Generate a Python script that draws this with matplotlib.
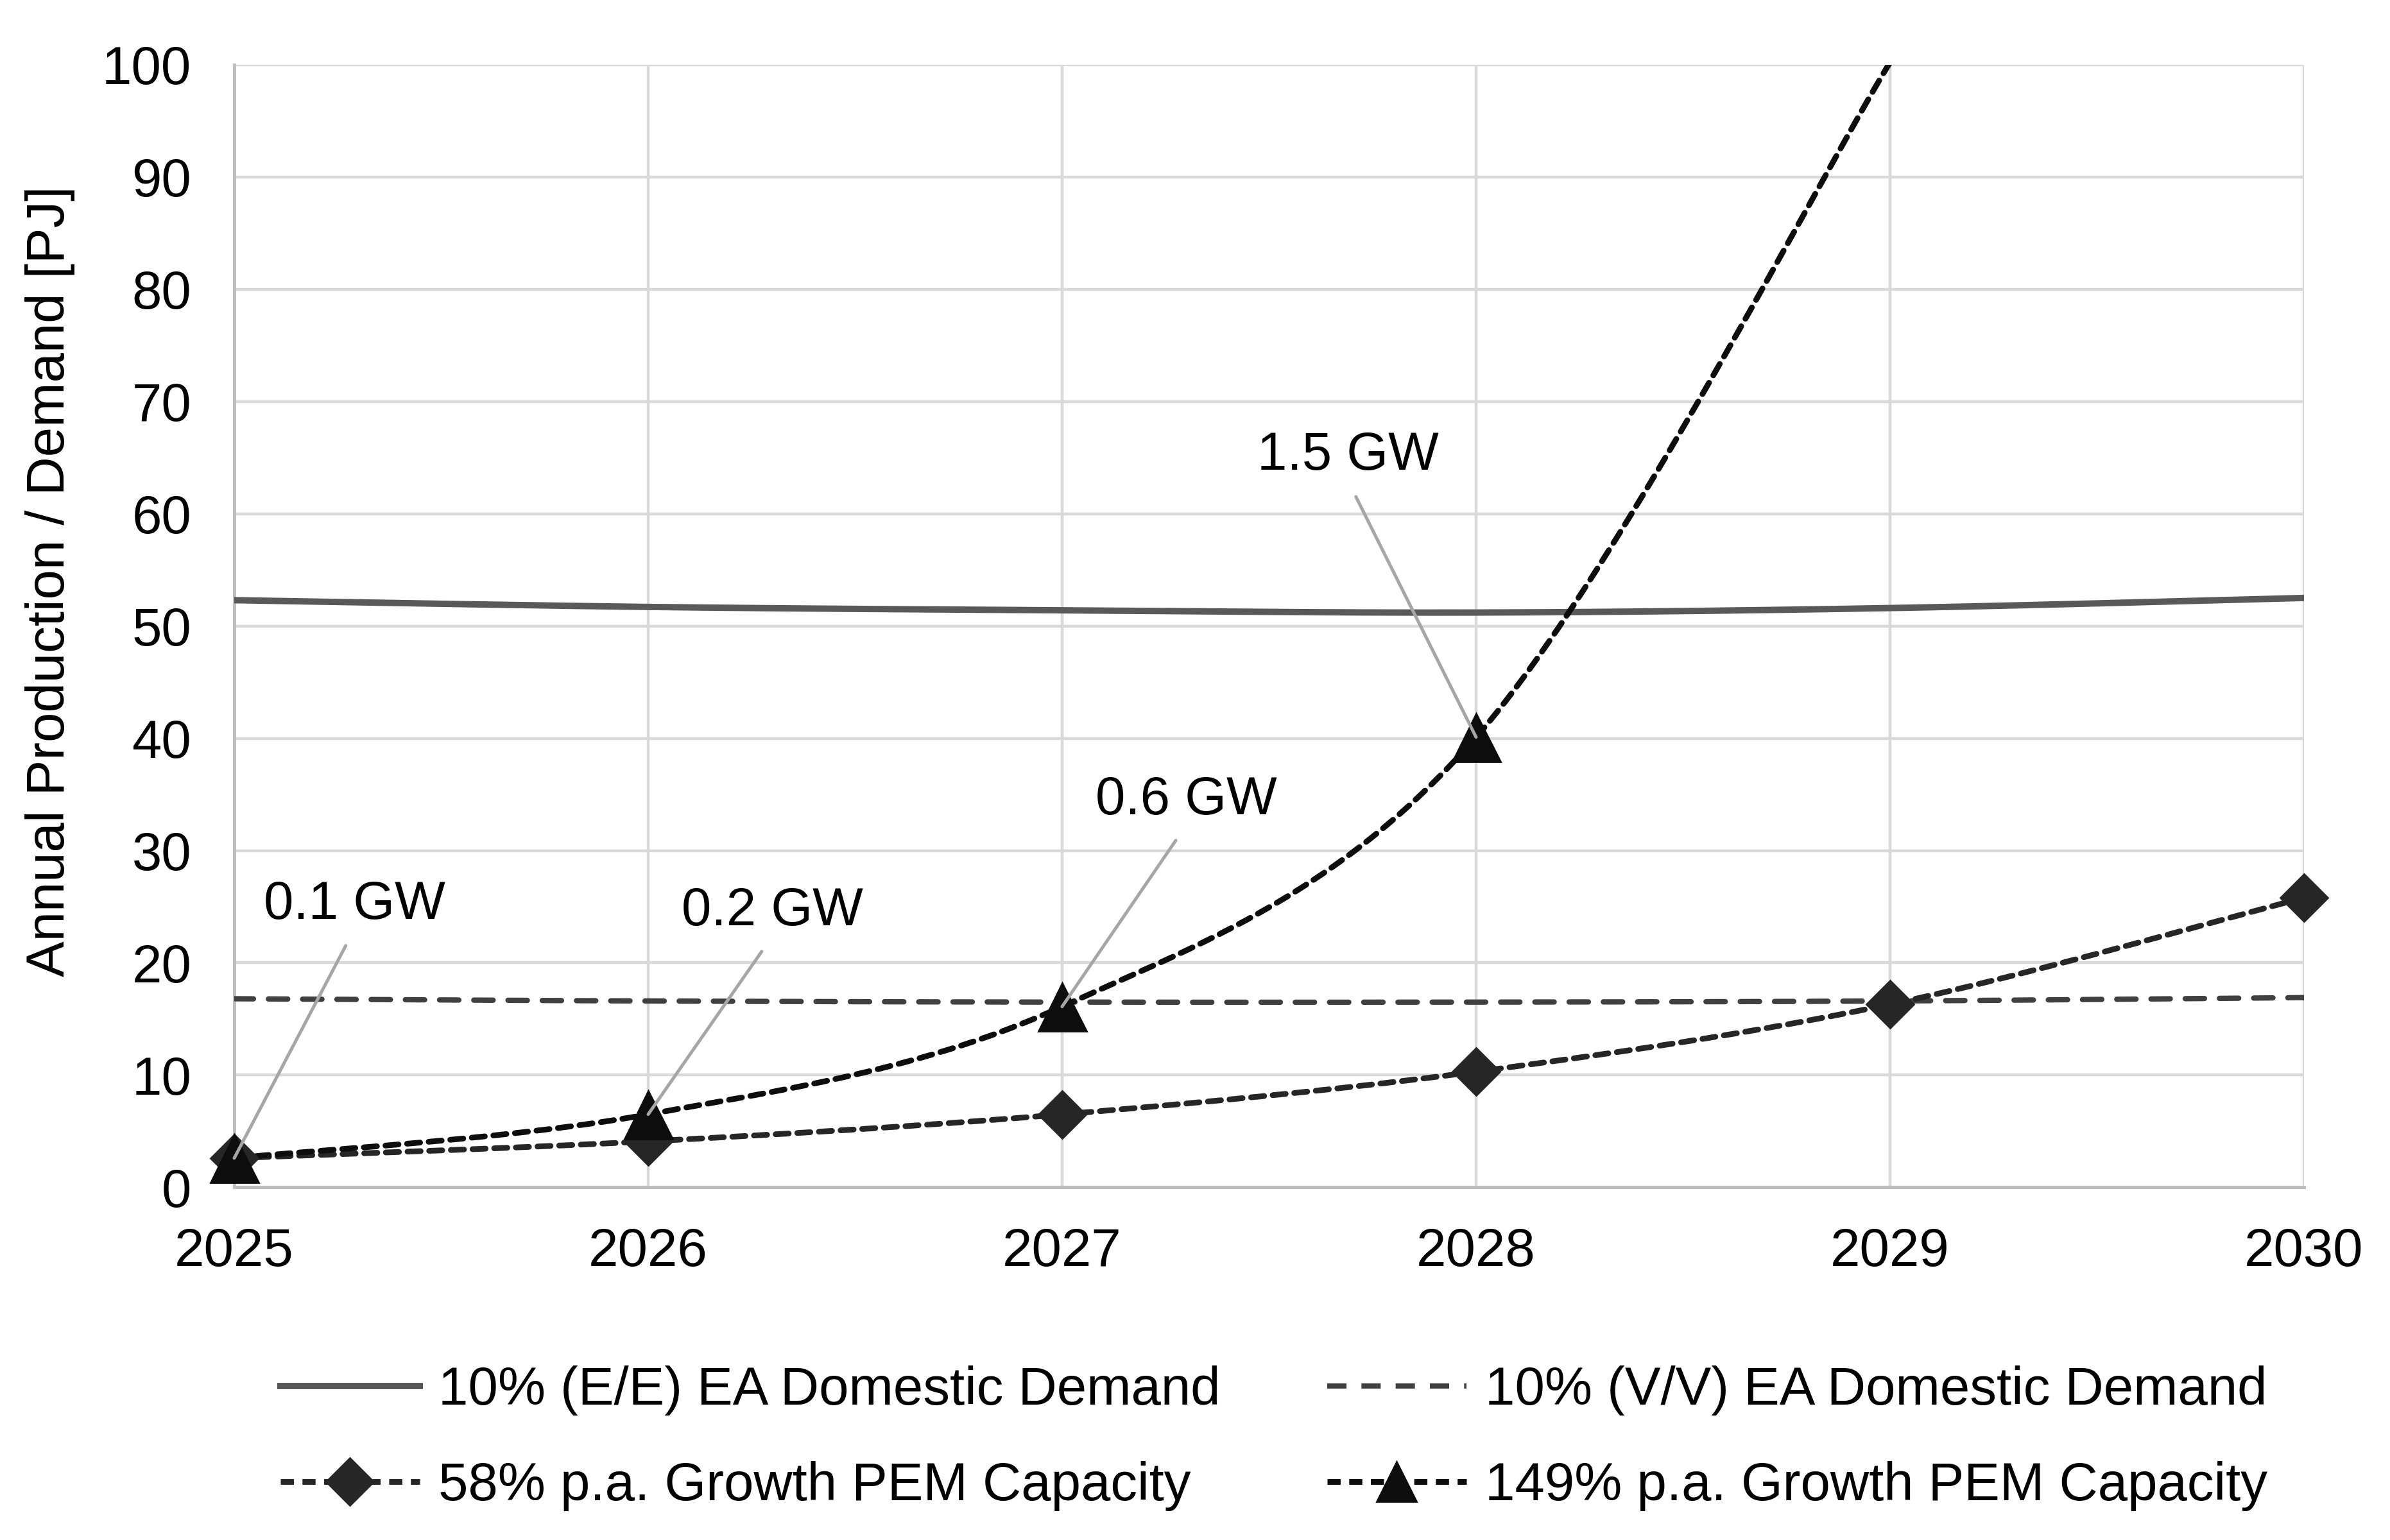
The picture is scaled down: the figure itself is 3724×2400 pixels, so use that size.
import numpy as np
import matplotlib
matplotlib.use("Agg")
import matplotlib.pyplot as plt

plt.rcParams['font.family'] = ['Liberation Sans', 'DejaVu Sans']

# values
years = [2025, 2026, 2027, 2028, 2029, 2030]
demand_ee = [52.3, 51.7, 51.4, 51.2, 51.6, 52.5]
demand_vv = [16.8, 16.6, 16.5, 16.5, 16.6, 16.9]
growth_58 = [2.6, 4.1, 6.5, 10.3, 16.3, 25.8]
years_149 = [2025, 2026, 2027, 2028, 2029]
growth_149 = [2.6, 6.5, 16.1, 40.1, 100.2]

capacity_labels = ["0.1 GW", "0.2 GW", "0.6 GW", "1.5 GW"]
label_pos = [(2025.29, 25.2), (2026.30, 24.6), (2027.30, 34.5), (2027.69, 65.2)]

labels = ["10% (E/E) EA Domestic Demand", "10% (V/V) EA Domestic Demand",
          "58% p.a. Growth PEM Capacity", "149% p.a. Growth PEM Capacity"]


def smooth(xs, ys, n=60):
    # Excel-style smoothed line (Catmull-Rom as cubic Bezier)
    xs = np.asarray(xs, float)
    ys = np.asarray(ys, float)
    px, py = [], []
    for i in range(len(xs) - 1):
        i0 = max(i - 1, 0)
        i3 = min(i + 2, len(xs) - 1)
        p0, p1, p2, p3 = [np.array([xs[k], ys[k]]) for k in (i0, i, i + 1, i3)]
        c1 = p1 + (p2 - p0) / 6.0
        c2 = p2 - (p3 - p1) / 6.0
        t = np.linspace(0, 1, n)[:, None]
        pts = ((1 - t) ** 3) * p1 + 3 * ((1 - t) ** 2) * t * c1 + 3 * (1 - t) * t ** 2 * c2 + t ** 3 * p2
        px.extend(pts[:, 0])
        py.extend(pts[:, 1])
    return np.array(px), np.array(py)


FS = 30
fig = plt.figure(figsize=(18.62, 12), dpi=200)
ax = fig.add_axes([0.098, 0.229, 0.866, 0.729])

x, y = smooth(years, demand_ee)
ax.plot(x, y, color="#595959", lw=3.6, solid_capstyle="round", zorder=3)
x, y = smooth(years, demand_vv)
ax.plot(x, y, color="#404040", lw=3.0, dashes=(3.6, 2.8), dash_capstyle="round", zorder=3)

x, y = smooth(years, growth_58)
ax.plot(x, y, color="#262626", lw=3.2, dashes=(2.3, 1.5), dash_capstyle="round", zorder=4, clip_on=False)
ax.plot(years, growth_58, ls="none", marker="D", ms=19, color="#262626", zorder=5, clip_on=False)

x, y = smooth(years_149, growth_149)
ax.plot(x, y, color="#0d0d0d", lw=3.2, dashes=(2.3, 1.5), dash_capstyle="round", zorder=4)
ax.plot(years_149[:4], growth_149[:4], ls="none", marker="^", ms=27, color="#0d0d0d", zorder=6, clip_on=False)

# capacity annotations
for txt, pos, xp, yp in zip(capacity_labels, label_pos, years_149[:4], growth_149[:4]):
    ax.annotate(txt, xy=(xp, yp), xytext=pos, ha="center", va="center", fontsize=FS,
                arrowprops=dict(arrowstyle="-", color="#a6a6a6", lw=1.8,
                                relpos=(0.5, 0.0), shrinkA=8, shrinkB=0),
                zorder=7)

ax.set_xlim(2025, 2030)
ax.set_ylim(0, 100)
ax.set_xticks(years)
ax.set_yticks(range(0, 101, 10))
ax.tick_params(axis="both", length=0, labelsize=FS)
ax.tick_params(axis="x", pad=22)
ax.tick_params(axis="y", pad=24)
ax.grid(True, color="#d9d9d9", lw=1.6, zorder=0)
ax.set_axisbelow(True)
for s in ["top", "right"]:
    ax.spines[s].set_visible(False)
for s in ["left", "bottom"]:
    ax.spines[s].set_color("#bfbfbf")
    ax.spines[s].set_linewidth(1.8)

ax.set_ylabel("Annual Production / Demand [PJ]", fontsize=FS)
ax.yaxis.set_label_coords(-0.077, 0.54)

handles = [
    plt.Line2D([], [], color="#595959", lw=3.6),
    plt.Line2D([], [], color="#262626", lw=3.2, dashes=(2.3, 1.5), marker="D", ms=19),
    plt.Line2D([], [], color="#404040", lw=3.0, dashes=(3.6, 2.8)),
    plt.Line2D([], [], color="#0d0d0d", lw=3.2, dashes=(2.3, 1.5), marker="^", ms=22),
]
order = [labels[0], labels[2], labels[1], labels[3]]
fig.legend(handles, order, loc="center", bbox_to_anchor=(0.533, 0.066), ncol=2,
           frameon=False, fontsize=FS, handlelength=2.6, handletextpad=0.35,
           columnspacing=2.0, labelspacing=0.85)

fig.savefig("out.png", dpi=200)
